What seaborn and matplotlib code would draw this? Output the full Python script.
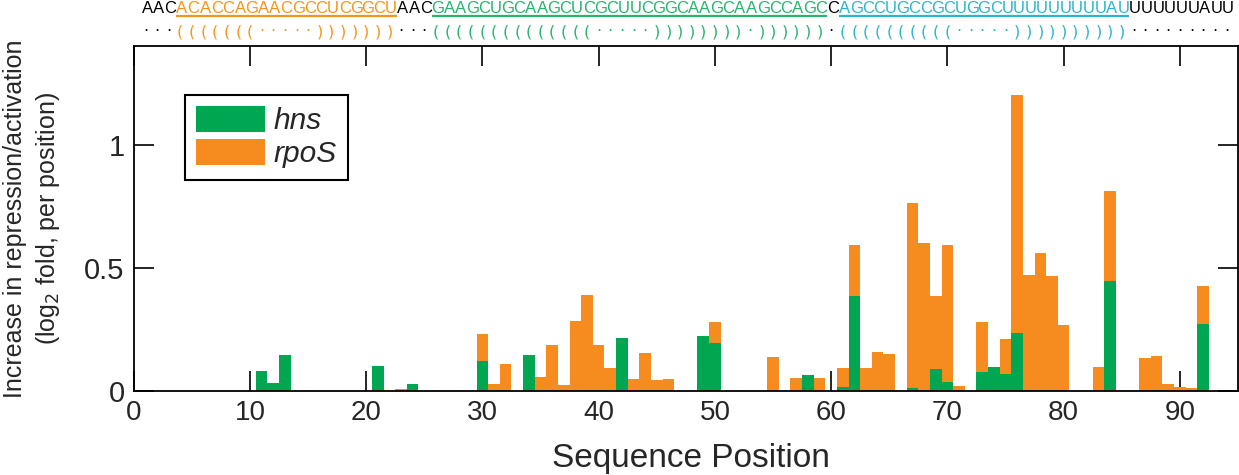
import numpy as np
import pandas as pd
import matplotlib
matplotlib.use("Agg")
import matplotlib.pyplot as plt
import seaborn as sns
from matplotlib.patches import Patch

# ---------------- data ----------------
positions = [11, 12, 13, 21, 23, 24, 30, 31, 32, 34, 35, 36, 37, 38, 39, 40, 41, 42,
             43, 44, 45, 46, 49, 50, 55, 57, 58, 59, 61, 62, 63, 64, 65, 67, 68, 69,
             70, 71, 73, 74, 75, 76, 77, 78, 79, 80, 83, 84, 87, 88, 89, 90, 91, 92]
hns_values = [0.08, 0.03, 0.145, 0.10, 0.0, 0.027, 0.12, 0.0, 0.0, 0.143, 0.0, 0.0,
              0.0, 0.0, 0.0, 0.0, 0.0, 0.213, 0.0, 0.0, 0.0, 0.0, 0.222, 0.193, 0.0,
              0.0, 0.062, 0.0, 0.015, 0.383, 0.0, 0.0, 0.0, 0.011, 0.0, 0.088, 0.035,
              0.0, 0.076, 0.096, 0.068, 0.234, 0.0, 0.0, 0.0, 0.0, 0.0, 0.445, 0.0,
              0.0, 0.0, 0.0, 0.0, 0.27]
rpos_values = [0.0, 0.0, 0.0, 0.0, 0.005, 0.0, 0.11, 0.027, 0.108, 0.003, 0.056, 0.185,
               0.024, 0.283, 0.389, 0.185, 0.093, 0.003, 0.047, 0.154, 0.043, 0.047,
               0.0, 0.085, 0.137, 0.052, 0.002, 0.052, 0.078, 0.207, 0.093, 0.157,
               0.15, 0.75, 0.60, 0.296, 0.557, 0.019, 0.203, 0.0, 0.142, 0.966, 0.47,
               0.558, 0.466, 0.267, 0.097, 0.365, 0.133, 0.141, 0.028, 0.016, 0.012,
               0.154]
series_names = ["hns", "rpoS"]
series_colors = {"hns": "#00A651", "rpoS": "#F68B1F"}

x_ticks = [0, 10, 20, 30, 40, 50, 60, 70, 80, 90]
y_ticks = [0, 0.5, 1]
y_tick_labels = ["0", "0.5", "1"]

sequence = ("AAC" + "ACACCAGAACGCCUCGGCU" + "AAC" +
            "GAAGCUGCAAGCUCGCUUCGGCAAGCAAGCCAGC" + "C" +
            "AGCCUGCCGCUGGCUUUUUUUUUAU" + "UUUUUUAUU")
dot_bracket = ("···" + "(((((((·····)))))))" + "···" +
               "((((((((((((((·····))))))))·))))))" + "·" +
               "((((((((((·····))))))))))" + "·········")
# structural segments: (first position, last position, colour)
segments = [(4, 22, "#F7941D"), (26, 59, "#27B46C"), (61, 85, "#2BB5CC")]

# ---------------- figure ----------------
sns.set_style("ticks")
plt.rcParams["font.family"] = ["Liberation Sans", "DejaVu Sans"]

fig = plt.figure(figsize=(12.39, 4.75), dpi=100)
ax = fig.add_axes([0.1079, 0.1775, 0.8913, 0.7255])

n = len(positions)
df = pd.DataFrame({
    "pos": positions * 2,
    "value": hns_values + rpos_values,
    "series": ["hns"] * n + ["rpoS"] * n,
})

sns.histplot(data=df, x="pos", weights="value", hue="series",
             hue_order=["rpoS", "hns"], multiple="stack",
             binwidth=1, binrange=(0.5, 94.5), palette=series_colors,
             alpha=1, linewidth=0, legend=False, ax=ax)

ax.set_xlim(0, 95)
ax.set_ylim(0, 1.4)
ax.set_xticks(x_ticks)
ax.set_xticklabels([str(t) for t in x_ticks])
ax.set_yticks(y_ticks)
ax.set_yticklabels(y_tick_labels)
ax.set_xlabel("")
ax.set_ylabel("")
ax.tick_params(direction="in", length=14.5, width=1.2, top=True, right=True,
               labelsize=20, pad=6.5, color="black")
ax.tick_params(axis="y", labelsize=21)
for sp in ax.spines.values():
    sp.set_visible(True)
    sp.set_linewidth(1.3)
    sp.set_color("black")

# axis labels
fig.text(0.558, 1 - 459 / 475, "Sequence Position", ha="center", va="center",
         fontsize=24)
fig.text(32.5 / 1239, 1 - 218.5 / 475,
         "Increase in repression/activation\n(log$_2$ fold, per position)",
         rotation=90, ha="center", va="center", fontsize=18, linespacing=1.3,
         multialignment="center")

# legend
handles = [Patch(facecolor=series_colors[s], edgecolor="none") for s in series_names]
leg = ax.legend(handles, series_names, loc="upper left",
                bbox_to_anchor=(0.0464, 0.858), borderaxespad=0,
                handlelength=2.3, handleheight=0.95,
                labelspacing=0.12, handletextpad=0.3, borderpad=0.38,
                frameon=True, fancybox=False, edgecolor="black",
                prop={"style": "italic", "size": 21.5})
leg.get_frame().set_linewidth(1.5)
leg.get_frame().set_alpha(1)

# structure annotation above the axes
trans = ax.get_xaxis_transform()


def colour_at(p):
    for s, e, c in segments:
        if s <= p <= e:
            return c
    return "black"


for i, (ch, db) in enumerate(zip(sequence, dot_bracket)):
    p = i + 1
    c = colour_at(p)
    ax.text(p + 0.15, 1.0958, ch, transform=trans, ha="center", va="baseline",
            fontsize=12, color=c, family="Liberation Sans", clip_on=False)
    ax.text(p, 1.029, db, transform=trans, ha="center", va="baseline",
            fontsize=11.5, color=c, family="DejaVu Sans", clip_on=False)

for s, e, c in segments:
    ax.plot([s - 0.35, e + 0.65], [1.088, 1.088], transform=trans, color=c,
            linewidth=1.6, clip_on=False, solid_capstyle="butt")

fig.savefig("out.png", dpi=100)
